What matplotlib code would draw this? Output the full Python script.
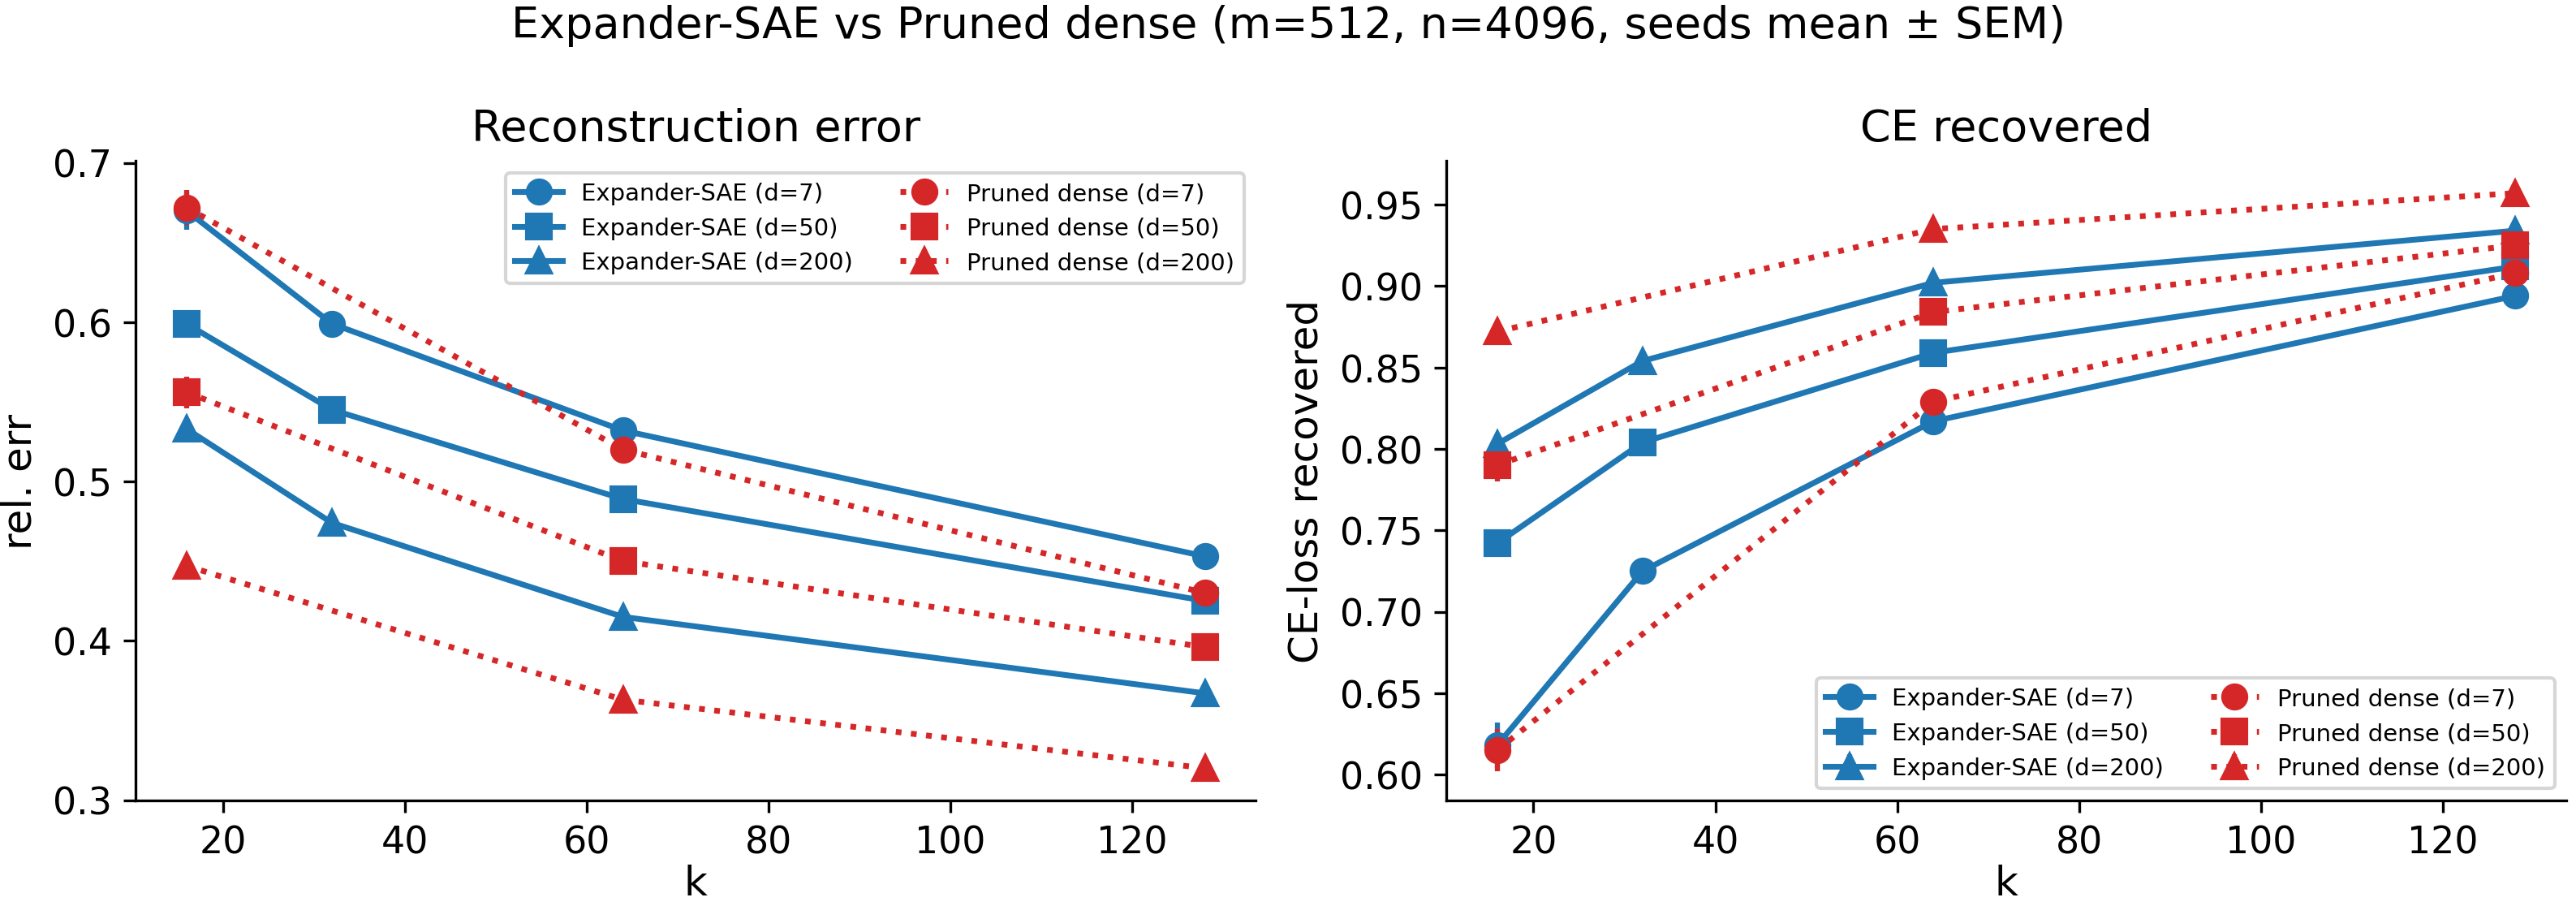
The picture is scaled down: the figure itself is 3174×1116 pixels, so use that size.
import numpy as np
import matplotlib.pyplot as plt

# k values
k_exp = [16, 32, 64, 128]
k_pru = [16, 64, 128]
degrees = [7, 50, 200]

# Reconstruction error (rel. err), mean and SEM
err_exp = {7: [0.670, 0.599, 0.532, 0.453],
           50: [0.599, 0.545, 0.489, 0.425],
           200: [0.533, 0.474, 0.415, 0.367]}
err_exp_sem = {7: [0.012, 0.002, 0.002, 0.002],
               50: [0.002, 0.002, 0.002, 0.002],
               200: [0.002, 0.002, 0.002, 0.002]}
err_pru = {7: [0.672, 0.520, 0.430],
           50: [0.556, 0.450, 0.396],
           200: [0.447, 0.363, 0.320]}
err_pru_sem = {7: [0.011, 0.002, 0.002],
               50: [0.010, 0.002, 0.002],
               200: [0.002, 0.002, 0.002]}

# CE-loss recovered, mean and SEM
ce_exp = {7: [0.618, 0.725, 0.817, 0.894],
          50: [0.742, 0.804, 0.859, 0.912],
          200: [0.803, 0.854, 0.902, 0.934]}
ce_exp_sem = {7: [0.014, 0.002, 0.002, 0.002],
              50: [0.002, 0.002, 0.002, 0.002],
              200: [0.002, 0.002, 0.002, 0.002]}
ce_pru = {7: [0.615, 0.829, 0.908],
          50: [0.790, 0.884, 0.925],
          200: [0.872, 0.935, 0.957]}
ce_pru_sem = {7: [0.013, 0.002, 0.002],
              50: [0.010, 0.002, 0.002],
              200: [0.002, 0.002, 0.002]}

markers = {7: 'o', 50: 's', 200: '^'}
blue = '#1f77b4'
red = '#d62728'

fig, axes = plt.subplots(1, 2, figsize=(10.583, 3.723), dpi=300)
fig.subplots_adjust(left=0.0526, right=0.996, bottom=0.1164, top=0.8218, wspace=0.17)


def draw(ax, exp, exp_sem, pru, pru_sem):
    for d in degrees:
        ax.errorbar(k_exp, exp[d], yerr=exp_sem[d], color=blue, marker=markers[d],
                    linestyle='-', lw=1.7, ms=7, elinewidth=1.5,
                    label=f'Expander-SAE (d={d})')
    for d in degrees:
        ax.errorbar(k_pru, pru[d], yerr=pru_sem[d], color=red, marker=markers[d],
                    linestyle=':', lw=1.7, ms=7, elinewidth=1.5,
                    label=f'Pruned dense (d={d})')
    ax.spines['top'].set_visible(False)
    ax.spines['right'].set_visible(False)
    ax.tick_params(labelsize=11)
    ax.set_xlabel('k', fontsize=12, labelpad=1)


ax = axes[0]
draw(ax, err_exp, err_exp_sem, err_pru, err_pru_sem)
ax.set_title('Reconstruction error', fontsize=13)
ax.set_ylabel('rel. err', fontsize=12)
ax.legend(loc='upper right', ncol=2, fontsize=7)

ax = axes[1]
draw(ax, ce_exp, ce_exp_sem, ce_pru, ce_pru_sem)
ax.set_title('CE recovered', fontsize=13)
ax.set_ylabel('CE-loss recovered', fontsize=12)
ax.legend(loc='lower right', ncol=2, fontsize=7)

fig.suptitle('Expander-SAE vs Pruned dense (m=512, n=4096, seeds mean ± SEM)', fontsize=13, y=0.995)
fig.savefig('out.png', dpi=300)
